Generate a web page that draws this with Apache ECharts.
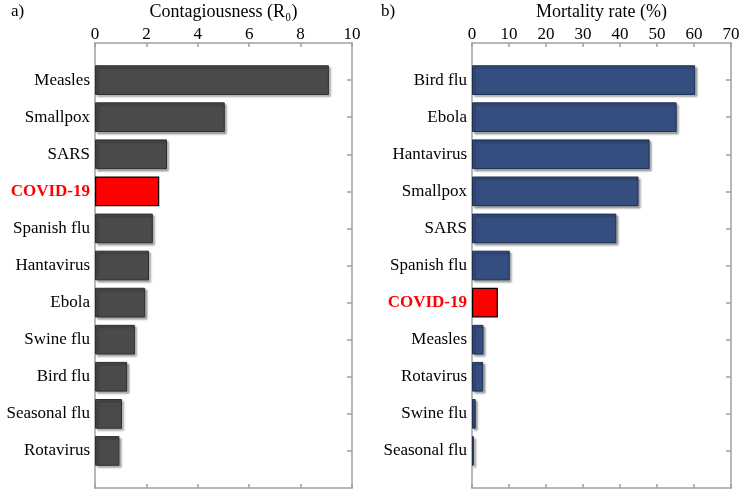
<!DOCTYPE html>
<html>
<head>
<meta charset="utf-8">
<script src="https://cdn.jsdelivr.net/npm/echarts@6/dist/echarts.min.js"></script>
<style>html,body{margin:0;padding:0;background:#fff;}#c{width:740px;height:490px;}</style>
</head>
<body>
<div id="c"></div>
<script>
const leftCats = ['Measles','Smallpox','SARS','COVID-19','Spanish flu','Hantavirus','Ebola','Swine flu','Bird flu','Seasonal flu','Rotavirus'];
const r0Values = [9.1, 5.05, 2.8, 2.5, 2.25, 2.1, 1.95, 1.55, 1.25, 1.05, 0.95];
const rightCats = ['Bird flu','Ebola','Hantavirus','Smallpox','SARS','Spanish flu','COVID-19','Measles','Rotavirus','Swine flu','Seasonal flu'];
const mortValues = [60.3, 55.3, 48, 45, 39, 10.2, 7, 3.1, 3, 1, 0.5];
const leftTicks = [0, 2, 4, 6, 8, 10];
const rightTicks = [0, 10, 20, 30, 40, 50, 60, 70];

const FONT = '"Liberation Serif", "Times New Roman", serif';
const FRAME = '#a0a0a0';
const highlight = 'COVID-19';

function padCats(c) { return [''].concat(c, ['']); }
function barData(cats, vals) {
  const d = [{ value: '-' }];
  cats.forEach((c, i) => {
    if (c === highlight) {
      d.push({ value: vals[i], itemStyle: { color: '#ff0000', borderColor: '#000', borderWidth: 1.2, shadowBlur: 0, shadowOffsetX: 0, shadowOffsetY: 0 } });
    } else {
      d.push({ value: vals[i] });
    }
  });
  d.push({ value: '-' });
  return d;
}

const lineStyle = { color: FRAME, width: 1.5 };

function topAxis(gi, ticks, name) {
  return {
    type: 'value', gridIndex: gi, position: 'top', min: ticks[0], max: ticks[ticks.length - 1], interval: ticks[1] - ticks[0],
    name: name, nameLocation: 'middle', nameGap: 22, nameMoveOverlap: false,
    nameTextStyle: { fontFamily: FONT, fontSize: 18, color: '#000' },
    axisLine: { show: true, onZero: false, lineStyle: lineStyle },
    axisTick: { show: true, inside: true, length: 4, lineStyle: lineStyle },
    axisLabel: { show: true, fontFamily: FONT, fontSize: 17, color: '#000', margin: 0 },
    splitLine: { show: false }
  };
}
function bottomAxis(gi, ticks) {
  return {
    type: 'value', gridIndex: gi, position: 'bottom', min: ticks[0], max: ticks[ticks.length - 1], interval: ticks[1] - ticks[0],
    axisLine: { show: true, onZero: false, lineStyle: lineStyle },
    axisTick: { show: true, inside: true, length: 4, lineStyle: lineStyle },
    axisLabel: { show: false }, splitLine: { show: false }
  };
}
function leftAxis(gi, cats) {
  return {
    type: 'category', gridIndex: gi, position: 'left', inverse: true, boundaryGap: false,
    data: padCats(cats),
    axisLine: { show: true, onZero: false, lineStyle: lineStyle },
    axisTick: { show: false },
    axisLabel: {
      show: true, interval: 0, margin: 5, fontFamily: FONT, fontSize: 17, color: '#000',
      formatter: function (v) { return v === highlight ? '{h|' + v + '}' : v; },
      rich: { h: { fontFamily: FONT, fontSize: 17, fontWeight: 'bold', color: '#ff0000' } }
    },
    splitLine: { show: false }
  };
}
function rightAxis(gi, cats) {
  return {
    type: 'category', gridIndex: gi, position: 'right', inverse: true, boundaryGap: false,
    data: padCats(cats),
    axisLine: { show: true, onZero: false, lineStyle: lineStyle },
    axisTick: { show: true, inside: true, length: 5, lineStyle: lineStyle,
      interval: function (i) { return i > 0 && i < cats.length + 1; } },
    axisLabel: { show: false }, splitLine: { show: false }
  };
}

const chart = echarts.init(document.getElementById('c'), null, { renderer: 'canvas' });
chart.setOption({
  backgroundColor: '#fff',
  animation: false,
  graphic: [
    { type: 'text', left: 11, top: 3, style: { text: 'a)', font: '17px ' + FONT, fill: '#000' } },
    { type: 'text', left: 381, top: 3, style: { text: 'b)', font: '17px ' + FONT, fill: '#000' } }
  ],
  grid: [
    { left: 95, right: 388, top: 43, bottom: 2, containLabel: false, outerBoundsMode: 'none' },
    { left: 472, right: 9, top: 43, bottom: 2, containLabel: false, outerBoundsMode: 'none' }
  ],
  xAxis: [
    topAxis(0, leftTicks, 'Contagiousness (R\u2080)'),
    bottomAxis(0, leftTicks),
    topAxis(1, rightTicks, 'Mortality rate (%)'),
    bottomAxis(1, rightTicks)
  ],
  yAxis: [
    leftAxis(0, leftCats),
    rightAxis(0, leftCats),
    leftAxis(1, rightCats),
    rightAxis(1, rightCats)
  ],
  series: [
    {
      type: 'bar', xAxisIndex: 0, yAxisIndex: 0, barWidth: '80%',
      data: barData(leftCats, r0Values),
      itemStyle: { color: '#4a4a4a', borderColor: '#2e2e2e', borderWidth: 1,
        shadowColor: 'rgba(0,0,0,0.35)', shadowBlur: 2, shadowOffsetX: 2, shadowOffsetY: 2 }
    },
    {
      type: 'bar', xAxisIndex: 2, yAxisIndex: 2, barWidth: '80%',
      data: barData(rightCats, mortValues),
      itemStyle: { color: '#344e80', borderColor: '#1e2f52', borderWidth: 1,
        shadowColor: 'rgba(0,0,0,0.35)', shadowBlur: 2, shadowOffsetX: 2, shadowOffsetY: 2 }
    }
  ]
});
</script>
</body>
</html>
